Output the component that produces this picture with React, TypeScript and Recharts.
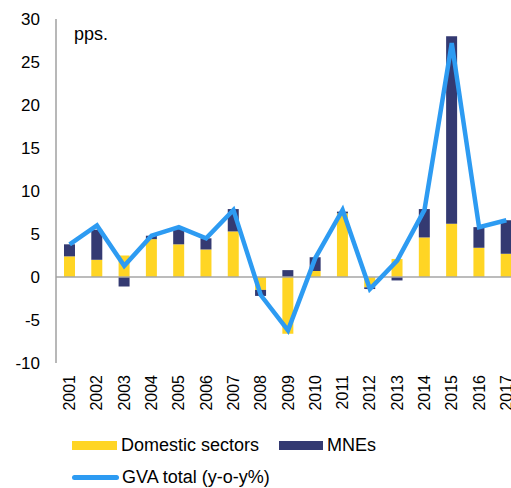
import React from 'react';
import {
  ComposedChart,
  Bar,
  Line,
  XAxis,
  YAxis,
  ReferenceLine,
} from 'recharts';

const years = ['2001', '2002', '2003', '2004', '2005', '2006', '2007', '2008', '2009', '2010', '2011', '2012', '2013', '2014', '2015', '2016', '2017'];
const domestic = [2.4, 2.0, 2.5, 4.4, 3.8, 3.2, 5.3, -1.5, -6.6, 0.7, 7.4, -1.2, 2.1, 4.6, 6.2, 3.4, 2.7];
const mnes = [1.4, 3.5, -1.1, 0.4, 1.8, 1.3, 2.6, -0.7, 0.8, 1.6, 0.2, -0.2, -0.4, 3.3, 21.8, 2.4, 3.9];
const gvaTotal = [3.8, 6.0, 1.3, 4.8, 5.8, 4.5, 7.8, -2.1, -6.2, 2.2, 7.8, -1.4, 1.9, 7.8, 27.2, 5.8, 6.6];
const yTicks = [-10, -5, 0, 5, 10, 15, 20, 25, 30];

const YELLOW = '#FFD524';
const NAVY = '#343A72';
const BLUE = '#2D9BF2';
const FONT = '"Liberation Sans", Arial, sans-serif';

const data = years.map((year, i) => ({
  year,
  domestic: domestic[i],
  mnes: mnes[i],
  gva: gvaTotal[i],
}));

function YearTick({ x, y, payload }: any) {
  return (
    <text
      transform={`translate(${x},${y}) rotate(-90)`}
      textAnchor="end"
      dominantBaseline="central"
      fontSize={16}
      fontFamily={FONT}
      fill="#000"
    >
      {payload.value}
    </text>
  );
}

export default function App() {
  return (
    <div style={{ position: 'absolute', left: 0, top: 0, width: 511, height: 488, overflow: 'hidden', fontFamily: FONT, background: '#fff' }}>
      <ComposedChart
        width={530}
        height={420}
        data={data}
        stackOffset="sign"
        margin={{ top: 19, right: 10, bottom: 0, left: 0 }}
      >
        <XAxis
          dataKey="year"
          axisLine={false}
          tickLine={false}
          tickSize={0}
          tickMargin={12}
          interval={0}
          height={57}
          tick={<YearTick />}
        />
        <YAxis
          domain={[-10, 30]}
          ticks={yTicks}
          width={56}
          tickLine={false}
          tickSize={0}
          tickMargin={16}
          axisLine={{ stroke: '#A0A0A0', strokeWidth: 1.5 }}
          tick={{ fill: '#000', fontSize: 17, fontFamily: FONT }}
        />
        <ReferenceLine y={0} stroke="#A6A6A6" strokeWidth={1.5} />
        <Bar dataKey="domestic" stackId="a" fill={YELLOW} barSize={11} isAnimationActive={false} />
        <Bar dataKey="mnes" stackId="a" fill={NAVY} barSize={11} isAnimationActive={false} />
        <Line
          type="linear"
          dataKey="gva"
          stroke={BLUE}
          strokeWidth={4.5}
          dot={false}
          isAnimationActive={false}
        />
      </ComposedChart>
      <div style={{ position: 'absolute', left: 74, top: 24, fontSize: 18, lineHeight: '21px' }}>pps.</div>
      <div style={{ position: 'absolute', left: 72, top: 435, fontSize: 18, lineHeight: '21px', display: 'flex', alignItems: 'center' }}>
        <span style={{ width: 45, height: 9, background: YELLOW, display: 'inline-block', marginRight: 4 }} />
        <span style={{ width: 158 }}>Domestic sectors</span>
        <span style={{ width: 44, height: 9, background: NAVY, display: 'inline-block', marginRight: 4 }} />
        <span>MNEs</span>
      </div>
      <div style={{ position: 'absolute', left: 72, top: 467, fontSize: 18, lineHeight: '21px', display: 'flex', alignItems: 'center' }}>
        <span style={{ width: 47, height: 5, background: BLUE, borderRadius: 3, display: 'inline-block', marginRight: 3 }} />
        <span>GVA total (y-o-y%)</span>
      </div>
    </div>
  );
}
